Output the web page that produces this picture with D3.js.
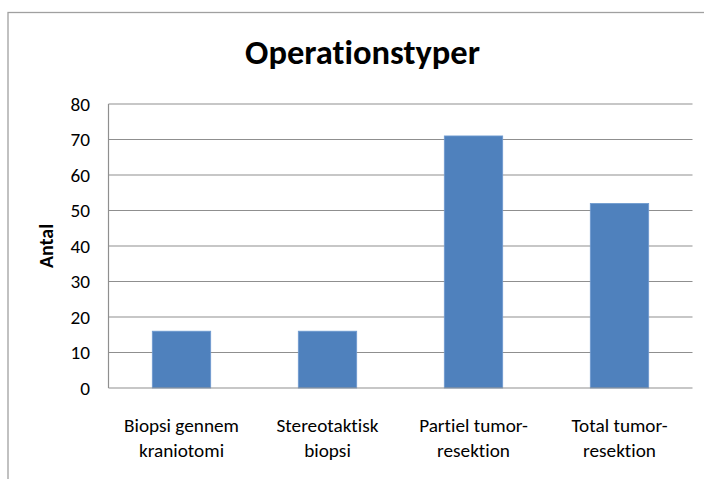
<!DOCTYPE html>
<html>
<head>
<meta charset="utf-8">
<script src="https://cdn.jsdelivr.net/npm/d3@7"></script>
<style>
  html, body { margin: 0; padding: 0; background: #fff; }
  svg { display: block; }
  text { font-family: Carlito, Lato, "Open Sans", sans-serif; fill: #000; font-variant-ligatures: none; }
</style>
</head>
<body>
<svg id="chart" width="704" height="479"></svg>
<script>
const title = "Operationstyper";
const yAxisTitle = "Antal";
const categories = ["Biopsi gennem\nkraniotomi", "Stereotaktisk\nbiopsi", "Partiel tumor-\nresektion", "Total tumor-\nresektion"];
const values = [16, 16, 71, 52];
const yTicks = [0, 10, 20, 30, 40, 50, 60, 70, 80];

const svg = d3.select("#chart");
const W = 704, H = 479;
const plot = { left: 108.5, right: 692.5, top: 104, bottom: 388 };

svg.append("rect")
  .attr("x", 8).attr("y", 12.5)
  .attr("width", W + 20).attr("height", H + 20)
  .attr("fill", "#fff").attr("stroke", "#a0a0a0").attr("stroke-width", 1.3);

const x = d3.scaleBand().domain(categories).range([plot.left, plot.right])
  .paddingInner(0.6).paddingOuter(0.3);
const y = d3.scaleLinear().domain([0, 80]).range([plot.bottom, plot.top]);

// font size at which a string reaches a target width
function fitSize(str, target, weight) {
  const p = svg.append("text").attr("font-size", 20).attr("font-weight", weight || "normal").text(str);
  const w = p.node().getComputedTextLength();
  p.remove();
  return 20 * target / w;
}

svg.append("g")
  .selectAll("line").data(yTicks.filter(d => d > 0)).join("line")
  .attr("x1", plot.left).attr("x2", plot.right)
  .attr("y1", d => y(d)).attr("y2", d => y(d))
  .attr("stroke", "#8f8f8f").attr("stroke-width", 1.2);

svg.append("g")
  .selectAll("rect").data(values).join("rect")
  .attr("x", (d, i) => x(categories[i]))
  .attr("width", x.bandwidth())
  .attr("y", d => y(d))
  .attr("height", d => y(0) - y(d))
  .attr("fill", "#4f81bd")
  .attr("stroke", "#6f9bd0").attr("stroke-width", 0.8);

svg.append("line").attr("x1", plot.left).attr("x2", plot.left)
  .attr("y1", plot.top).attr("y2", plot.bottom)
  .attr("stroke", "#8f8f8f").attr("stroke-width", 1.2);
svg.append("line").attr("x1", plot.left).attr("x2", plot.right)
  .attr("y1", plot.bottom).attr("y2", plot.bottom)
  .attr("stroke", "#8f8f8f").attr("stroke-width", 1.2);

const labelFS = fitSize("Biopsi gennem", 115);

svg.append("g")
  .selectAll("text").data(yTicks).join("text")
  .attr("x", 90).attr("y", d => y(d))
  .attr("dy", "0.35em")
  .attr("text-anchor", "end")
  .attr("font-size", labelFS)
  .text(d => d);

categories.forEach(c => {
  const cx = x(c) + x.bandwidth() / 2;
  const t = svg.append("text").attr("text-anchor", "middle").attr("font-size", labelFS);
  c.split("\n").forEach((line, k) => {
    t.append("tspan").attr("x", cx).attr("y", 432 + k * 24.7).text(line);
  });
});

svg.append("text").attr("text-anchor", "middle")
  .attr("x", 362.5).attr("y", 64.3)
  .attr("font-size", fitSize(title, 235, "bold"))
  .attr("font-weight", "bold").text(title);

svg.append("text").attr("text-anchor", "middle")
  .attr("transform", "translate(52.5,246) rotate(-90)")
  .attr("font-size", Math.min(20, fitSize(yAxisTitle, 46, "bold")))
  .attr("font-weight", "bold").text(yAxisTitle);
</script>
</body>
</html>
